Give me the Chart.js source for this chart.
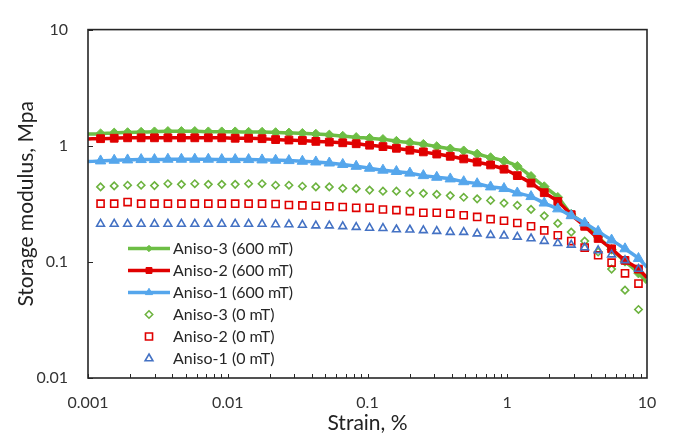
<!DOCTYPE html>
<html>
<head>
<meta charset="utf-8">
<script src="https://cdn.jsdelivr.net/npm/chart.js@4.4.0/dist/chart.umd.min.js"></script>
<style>
  html, body { margin: 0; padding: 0; background: #fff; }
</style>
</head>
<body>
<canvas id="grafico" width="675" height="434"></canvas>
<script>
// strain values (%), same for every series
const strain = [0.00123, 0.00154, 0.00192, 0.0024, 0.00299, 0.00373, 0.00466, 0.00581, 0.00726, 0.00906,
  0.0113, 0.0141, 0.0176, 0.022, 0.0274, 0.0342, 0.0427, 0.0533, 0.0665, 0.083,
  0.1035, 0.129, 0.161, 0.201, 0.251, 0.313, 0.391, 0.488, 0.609, 0.76,
  0.948, 1.18, 1.48, 1.84, 2.3, 2.87, 3.58, 4.47, 5.58, 6.96, 8.69];

// storage modulus (MPa) with field (600 mT)
const aniso3Field = [1.27, 1.29, 1.30, 1.31, 1.32, 1.33, 1.33, 1.33, 1.32, 1.32,
  1.32, 1.31, 1.31, 1.30, 1.29, 1.28, 1.26, 1.24, 1.21, 1.18,
  1.16, 1.135, 1.095, 1.065, 1.03, 0.985, 0.94, 0.905, 0.85, 0.79,
  0.74, 0.665, 0.545, 0.445, 0.36, 0.258, 0.212, 0.164, 0.128, 0.101, 0.08];
const aniso2Field = [1.15, 1.16, 1.17, 1.17, 1.17, 1.17, 1.17, 1.17, 1.17, 1.17,
  1.16, 1.16, 1.15, 1.13, 1.12, 1.11, 1.09, 1.075, 1.06, 1.04,
  1.01, 0.983, 0.951, 0.915, 0.885, 0.848, 0.811, 0.77, 0.723, 0.683,
  0.628, 0.553, 0.477, 0.394, 0.331, 0.255, 0.2024, 0.159, 0.1296, 0.103, 0.0866];
const aniso1Field = [0.74, 0.75, 0.755, 0.76, 0.76, 0.765, 0.765, 0.765, 0.765, 0.76,
  0.76, 0.76, 0.755, 0.75, 0.745, 0.735, 0.725, 0.71, 0.69, 0.665,
  0.64, 0.616, 0.6, 0.581, 0.553, 0.535, 0.518, 0.49, 0.471, 0.442,
  0.428, 0.392, 0.365, 0.321, 0.286, 0.25, 0.216, 0.183, 0.154, 0.1296, 0.107];

// where the smoothed lines meet the plot edges
const edgeStrain = [0.001, 10];
const aniso3FieldEdge = [1.26, 0.066];
const aniso2FieldEdge = [1.145, 0.073];
const aniso1FieldEdge = [0.73, 0.09];

// storage modulus (MPa) without field (0 mT)
const aniso3Zero = [0.442, 0.451, 0.457, 0.457, 0.454, 0.471, 0.465, 0.471, 0.465, 0.465,
  0.465, 0.471, 0.471, 0.457, 0.457, 0.448, 0.442, 0.442, 0.43, 0.427,
  0.415, 0.406, 0.406, 0.394, 0.389, 0.381, 0.372, 0.36, 0.349, 0.338,
  0.321, 0.307, 0.283, 0.249, 0.2145, 0.1805, 0.151, 0.1216, 0.0867, 0.0571, 0.0389];
const aniso2Zero = [0.317, 0.317, 0.327, 0.317, 0.317, 0.317, 0.317, 0.317, 0.317, 0.317,
  0.317, 0.317, 0.317, 0.315, 0.309, 0.306, 0.304, 0.301, 0.297, 0.292,
  0.292, 0.2825, 0.279, 0.2735, 0.265, 0.265, 0.26, 0.252, 0.2437, 0.233,
  0.226, 0.216, 0.2025, 0.1866, 0.1695, 0.151, 0.1328, 0.114, 0.0985, 0.0797, 0.065];
const aniso1Zero = [0.212, 0.212, 0.212, 0.212, 0.212, 0.212, 0.212, 0.212, 0.212, 0.212,
  0.212, 0.212, 0.212, 0.21, 0.21, 0.208, 0.205, 0.205, 0.202, 0.199,
  0.196, 0.195, 0.19, 0.189, 0.1866, 0.184, 0.1805, 0.1805, 0.175, 0.17,
  0.168, 0.164, 0.159, 0.151, 0.1445, 0.14, 0.133, 0.1255, 0.1155, 0.103, 0.0867];

const xTicks = [0.001, 0.01, 0.1, 1, 10];
const yTicks = [0.01, 0.1, 1, 10];

const FONT = 'Lato';

function pontos(xs, ys) {
    return xs.map((x, i) => ({ x: x, y: ys[i] }));
}

function comBordas(vals, borda) {
    return [{ x: edgeStrain[0], y: borda[0] }].concat(pontos(strain, vals), [{ x: edgeStrain[1], y: borda[1] }]);
}

function serieCampo(label, vals, borda, cor, estilo, raio, raioLegenda, ordem) {
    return {
        label: label,
        data: comBordas(vals, borda),
        borderColor: cor,
        backgroundColor: cor,
        borderWidth: 3.5,
        cubicInterpolationMode: 'monotone',
        pointStyle: estilo,
        pointRadius: ctx => (ctx.dataIndex === 0 || ctx.dataIndex === ctx.dataset.data.length - 1) ? 0 : raio,
        pointBackgroundColor: cor,
        pointBorderColor: cor,
        pointBorderWidth: 1,
        legendRadius: raioLegenda,
        clip: 0,
        order: ordem
    };
}

function serieZero(label, vals, cor, estilo, raio, ordem) {
    return {
        label: label,
        data: pontos(strain, vals),
        showLine: false,
        borderColor: cor,
        backgroundColor: 'rgba(0,0,0,0)',
        pointStyle: estilo,
        pointRadius: raio,
        pointBackgroundColor: 'rgba(0,0,0,0)',
        pointBorderColor: cor,
        pointBorderWidth: 1.6,
        legendRadius: raio,
        clip: 0,
        order: ordem
    };
}

// moldura, marcas dos eixos e legenda dentro da área do gráfico
const extras = {
    id: 'extras',
    afterDraw(chart) {
        const { ctx, chartArea: a, scales } = chart;
        ctx.save();
        ctx.strokeStyle = '#262626';
        ctx.lineWidth = 1;
        ctx.beginPath();
        xTicks.slice(0, -1).forEach(d => {
            for (let m = 1; m <= 9; m++) {
                const px = Math.round(scales.x.getPixelForValue(d * m)) + 0.5;
                ctx.moveTo(px, a.bottom);
                ctx.lineTo(px, a.bottom - 4);
            }
        });
        yTicks.forEach(v => {
            const py = Math.round(scales.y.getPixelForValue(v)) + 0.5;
            ctx.moveTo(a.left, py);
            ctx.lineTo(a.left + 5, py);
        });
        ctx.stroke();
        ctx.lineWidth = 1.6;
        ctx.strokeRect(a.left, a.top, a.right - a.left, a.bottom - a.top);

        // legenda
        const x0 = 128, x1 = 170, xm = 149;
        chart.data.datasets.forEach((ds, i) => {
            const y = 248.5 + i * 22;
            if (ds.showLine !== false) {
                ctx.strokeStyle = ds.borderColor;
                ctx.lineWidth = ds.borderWidth;
                ctx.beginPath();
                ctx.moveTo(x0, y);
                ctx.lineTo(x1, y);
                ctx.stroke();
            }
            ctx.fillStyle = ds.pointBackgroundColor;
            ctx.strokeStyle = ds.pointBorderColor;
            ctx.lineWidth = ds.pointBorderWidth;
            Chart.helpers.drawPoint(ctx, { pointStyle: ds.pointStyle, radius: ds.legendRadius, rotation: 0, borderWidth: ds.pointBorderWidth }, xm, y);
            ctx.fillStyle = '#262626';
            ctx.font = '16px ' + FONT;
            ctx.textAlign = 'left';
            ctx.textBaseline = 'middle';
            ctx.fillText(ds.label, 173, y + 0.5);
        });
        ctx.restore();
    }
};

const ctx = document.getElementById('grafico').getContext('2d');

new Chart(ctx, {
    type: 'line',
    data: {
        datasets: [
            serieCampo('Aniso-3 (600 mT)', aniso3Field, aniso3FieldEdge, '#6DBE45', 'rectRot', 4.8, 3.2, 6),
            serieCampo('Aniso-2 (600 mT)', aniso2Field, aniso2FieldEdge, '#E00000', 'rect', 5.5, 4.2, 5),
            serieCampo('Aniso-1 (600 mT)', aniso1Field, aniso1FieldEdge, '#55A6EC', 'triangle', 6, 4.2, 4),
            serieZero('Aniso-3 (0 mT)', aniso3Zero, '#6DB33F', 'rectRot', 3.7, 3),
            serieZero('Aniso-2 (0 mT)', aniso2Zero, '#E00000', 'rect', 5, 2),
            serieZero('Aniso-1 (0 mT)', aniso1Zero, '#4472C4', 'triangle', 4.5, 1)
        ]
    },
    options: {
        responsive: false,
        animation: false,
        devicePixelRatio: 1,
        layout: { padding: { top: 17, right: 28, bottom: 0, left: 0 } },
        plugins: {
            legend: { display: false },
            tooltip: { enabled: false }
        },
        scales: {
            x: {
                type: 'logarithmic',
                min: 0.001,
                max: 10,
                afterBuildTicks: s => { s.ticks = xTicks.map(v => ({ value: v })); },
                afterFit: s => { s.height = 56; },
                grid: { display: false, drawTicks: false },
                border: { display: false },
                ticks: {
                    callback: v => String(v),
                    autoSkip: false,
                    maxRotation: 0,
                    padding: 15,
                    color: '#333',
                    font: { family: FONT, size: 16 }
                },
                title: {
                    display: true,
                    text: 'Strain, %',
                    color: '#222',
                    padding: { top: 0, bottom: 0 },
                    font: { family: FONT, size: 21, lineHeight: 1 }
                }
            },
            y: {
                type: 'logarithmic',
                min: 0.01,
                max: 10,
                afterBuildTicks: s => { s.ticks = yTicks.map(v => ({ value: v })); },
                afterFit: s => { s.width = 88; },
                grid: { display: false, drawTicks: false },
                border: { display: false },
                ticks: {
                    callback: v => String(v),
                    padding: 20,
                    color: '#333',
                    font: { family: FONT, size: 16 }
                },
                title: {
                    display: true,
                    text: 'Storage modulus, Mpa',
                    color: '#222',
                    padding: { top: 16, bottom: 0 },
                    font: { family: FONT, size: 21, lineHeight: 1 }
                }
            }
        }
    },
    plugins: [extras]
});
</script>
</body>
</html>
